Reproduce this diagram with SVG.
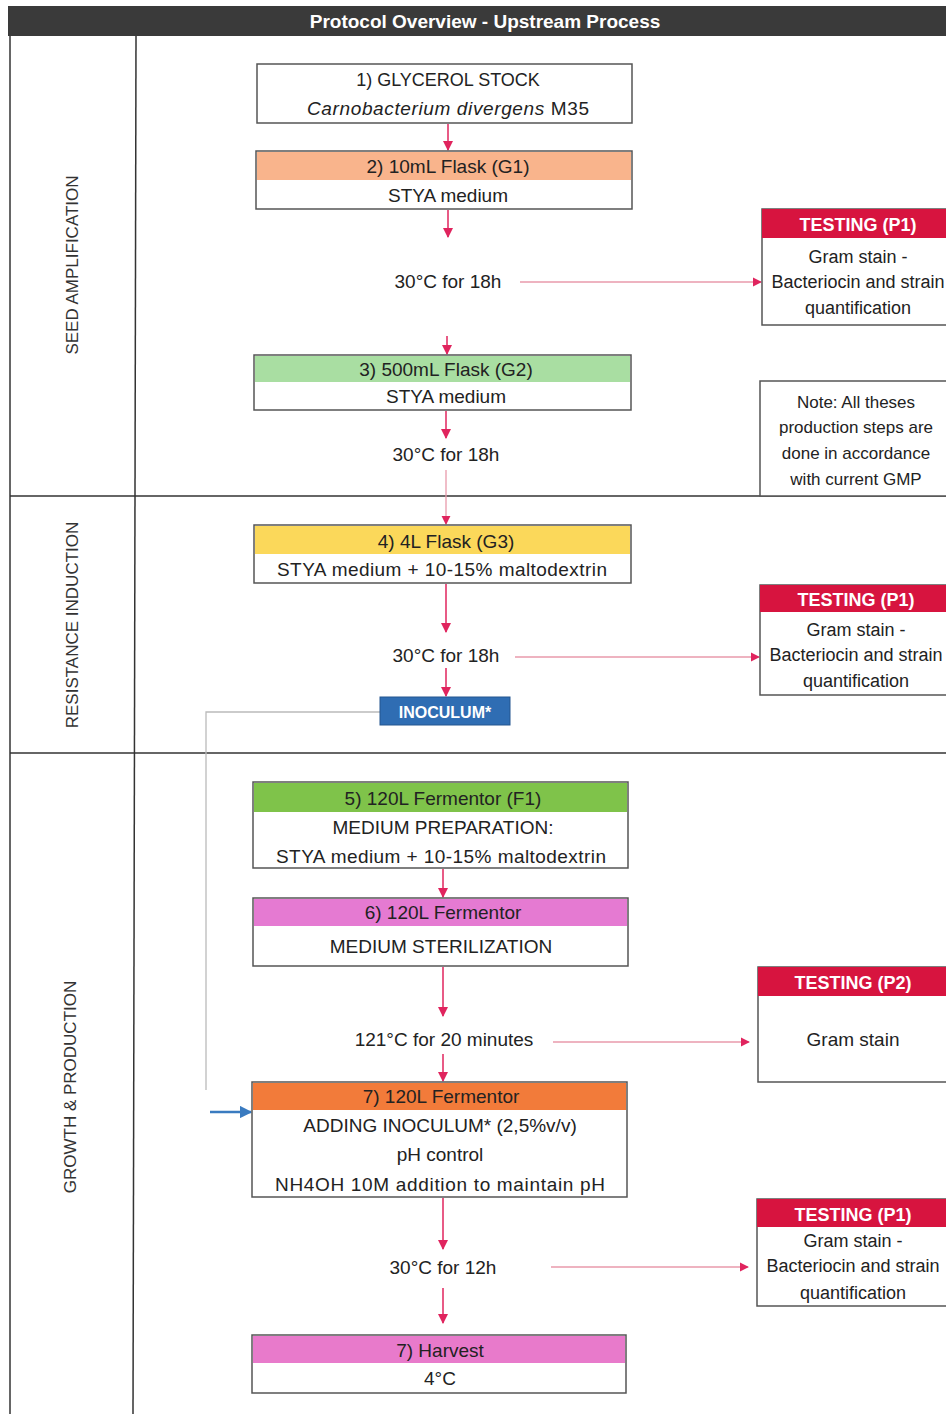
<svg xmlns="http://www.w3.org/2000/svg" width="946" height="1414" viewBox="0 0 946 1414">
<defs>
<style>
text{font-family:"Liberation Sans",Arial,sans-serif;font-size:19px;fill:#222;text-anchor:middle}
.box{fill:#fff;stroke:#555;stroke-width:1.5}
.th{fill:#fff;font-weight:bold;font-size:18px}
.lane{font-size:17px;fill:#333}
.grid{stroke:#333;stroke-width:1.5;fill:none}
.ar{stroke:#e0245e;stroke-width:1.5;fill:none;marker-end:url(#ah)}
.ar2{stroke:#e89aab;stroke-width:1.3;fill:none;marker-end:url(#ah)}
</style>
<marker id="ah" viewBox="0 0 10 10" refX="9" refY="5" markerWidth="7" markerHeight="7" orient="auto"><path d="M0,0L10,5L0,10z" fill="#e0245e"/></marker>
<marker id="ahb" viewBox="0 0 10 10" refX="9" refY="5" markerWidth="5" markerHeight="5" orient="auto"><path d="M0,0L10,5L0,10z" fill="#3a7bc0"/></marker>
</defs>
<rect width="946" height="1414" fill="#fff"/>
<g id="frame">
<rect x="8" y="6" width="938" height="30" fill="#3a3a3a"/>
<text x="485" y="28" class="th" style="font-size:19px">Protocol Overview - Upstream Process</text>
<line x1="10" y1="36" x2="10" y2="1414" class="grid"/>
<line x1="136" y1="36" x2="133" y2="1414" class="grid"/>
<line x1="10" y1="496" x2="946" y2="496" class="grid"/>
<line x1="10" y1="753" x2="946" y2="753" class="grid"/>
<text class="lane" transform="translate(78,265) rotate(-90)">SEED AMPLIFICATION</text>
<text class="lane" transform="translate(78,625) rotate(-90)">RESISTANCE INDUCTION</text>
<text class="lane" transform="translate(76,1087) rotate(-90)">GROWTH &amp; PRODUCTION</text>
</g>
<g id="connectors">
<line x1="448" y1="124" x2="448" y2="150" class="ar"/>
<line x1="448" y1="210" x2="448" y2="237" class="ar"/>
<line x1="520" y1="282" x2="761" y2="282" class="ar2"/>
<line x1="447" y1="336" x2="447" y2="354" class="ar"/>
<line x1="446" y1="411" x2="446" y2="438" class="ar"/>
<line x1="446" y1="470" x2="446" y2="524" class="ar2"/>
<line x1="446" y1="584" x2="446" y2="632" class="ar"/>
<line x1="515" y1="657" x2="759" y2="657" class="ar2"/>
<line x1="446" y1="668" x2="446" y2="696" class="ar"/>
<polyline points="380,712 206,712 206,1090" stroke="#bbb" stroke-width="1.3" fill="none"/>
<line x1="210" y1="1112" x2="251" y2="1112" stroke="#3a7bc0" stroke-width="2.5" marker-end="url(#ahb)"/>
<line x1="443" y1="869" x2="443" y2="897" class="ar"/>
<line x1="443" y1="967" x2="443" y2="1016" class="ar"/>
<line x1="553" y1="1042" x2="749" y2="1042" class="ar2"/>
<line x1="443" y1="1054" x2="443" y2="1081" class="ar"/>
<line x1="443" y1="1198" x2="443" y2="1249" class="ar"/>
<line x1="551" y1="1267" x2="748" y2="1267" class="ar2"/>
<line x1="443" y1="1288" x2="443" y2="1323" class="ar"/>
</g>
<g id="n1">
<rect x="257" y="64" width="375" height="59" class="box"/>
<text x="448" y="86" style="font-size:18px">1) GLYCEROL STOCK</text>
<text x="448" y="115" textLength="282"><tspan font-style="italic">Carnobacterium divergens</tspan> M35</text>
</g>
<g id="n2">
<rect x="256" y="151" width="376" height="58" class="box"/>
<rect x="257" y="152" width="374" height="28" fill="#f9b48c"/>
<text x="448" y="173">2) 10mL Flask (G1)</text>
<text x="448" y="202">STYA medium</text>
</g>
<g id="t1">
<rect x="762" y="209" width="190" height="116" class="box"/>
<rect x="762" y="209" width="190" height="29" fill="#d7143f"/>
<text x="858" y="231" class="th">TESTING (P1)</text>
<text x="858" y="263" style="font-size:18px">Gram stain -</text>
<text x="858" y="288" style="font-size:18px">Bacteriocin and strain</text>
<text x="858" y="314" style="font-size:18px">quantification</text>
</g>
<text x="448" y="288">30°C for 18h</text>
<g id="n3">
<rect x="254" y="355" width="377" height="55" class="box"/>
<rect x="255" y="356" width="375" height="26" fill="#a9dea2"/>
<text x="446" y="376">3) 500mL Flask (G2)</text>
<text x="446" y="403">STYA medium</text>
</g>
<text x="446" y="461">30°C for 18h</text>
<g id="note">
<rect x="760" y="381" width="192" height="115" class="box"/>
<text x="856" y="408" style="font-size:17px">Note: All theses</text>
<text x="856" y="433" style="font-size:17px">production steps are</text>
<text x="856" y="459" style="font-size:17px">done in accordance</text>
<text x="856" y="485" style="font-size:17px">with current GMP</text>
</g>
<g id="n4">
<rect x="254" y="525" width="377" height="58" class="box"/>
<rect x="255" y="526" width="375" height="28" fill="#fbd85a"/>
<text x="446" y="548">4) 4L Flask (G3)</text>
<text x="442" y="576" textLength="330">STYA medium + 10-15% maltodextrin</text>
</g>
<text x="446" y="662">30°C for 18h</text>
<g id="t2">
<rect x="760" y="585" width="192" height="110" class="box"/>
<rect x="760" y="585" width="192" height="27" fill="#d7143f"/>
<text x="856" y="606" class="th">TESTING (P1)</text>
<text x="856" y="636" style="font-size:18px">Gram stain -</text>
<text x="856" y="661" style="font-size:18px">Bacteriocin and strain</text>
<text x="856" y="687" style="font-size:18px">quantification</text>
</g>
<g id="inoculum">
<rect x="380" y="697" width="130" height="28" fill="#2f6db3" stroke="#24568f"/>
<text x="445" y="718" class="th" style="font-size:16px">INOCULUM*</text>
</g>
<g id="n5">
<rect x="253" y="782" width="375" height="86" class="box"/>
<rect x="254" y="783" width="373" height="29" fill="#7fc34a"/>
<text x="443" y="805">5) 120L Fermentor (F1)</text>
<text x="443" y="834">MEDIUM PREPARATION:</text>
<text x="441" y="863" textLength="330">STYA medium + 10-15% maltodextrin</text>
</g>
<g id="n6">
<rect x="253" y="898" width="375" height="68" class="box"/>
<rect x="254" y="899" width="373" height="27" fill="#e57ad2"/>
<text x="443" y="919">6) 120L Fermentor</text>
<text x="441" y="953">MEDIUM STERILIZATION</text>
</g>
<text x="444" y="1046">121°C for 20 minutes</text>
<g id="t3">
<rect x="758" y="967" width="194" height="115" class="box"/>
<rect x="758" y="967" width="194" height="29" fill="#d7143f"/>
<text x="853" y="989" class="th">TESTING (P2)</text>
<text x="853" y="1046">Gram stain</text>
</g>
<g id="n7">
<rect x="252" y="1082" width="375" height="115" class="box"/>
<rect x="253" y="1083" width="373" height="27" fill="#f27b3a"/>
<text x="441" y="1103">7) 120L Fermentor</text>
<text x="440" y="1132">ADDING INOCULUM* (2,5%v/v)</text>
<text x="440" y="1161">pH control</text>
<text x="440" y="1191" textLength="330">NH4OH 10M addition to maintain pH</text>
</g>
<text x="443" y="1274">30°C for 12h</text>
<g id="t4">
<rect x="757" y="1199" width="195" height="107" class="box"/>
<rect x="757" y="1199" width="195" height="28" fill="#d7143f"/>
<text x="853" y="1221" class="th">TESTING (P1)</text>
<text x="853" y="1247" style="font-size:18px">Gram stain -</text>
<text x="853" y="1272" style="font-size:18px">Bacteriocin and strain</text>
<text x="853" y="1299" style="font-size:18px">quantification</text>
</g>
<g id="n8">
<rect x="252" y="1335" width="374" height="58" class="box"/>
<rect x="253" y="1336" width="372" height="27" fill="#e87acb"/>
<text x="440" y="1357">7) Harvest</text>
<text x="440" y="1385">4°C</text>
</g>
</svg>
